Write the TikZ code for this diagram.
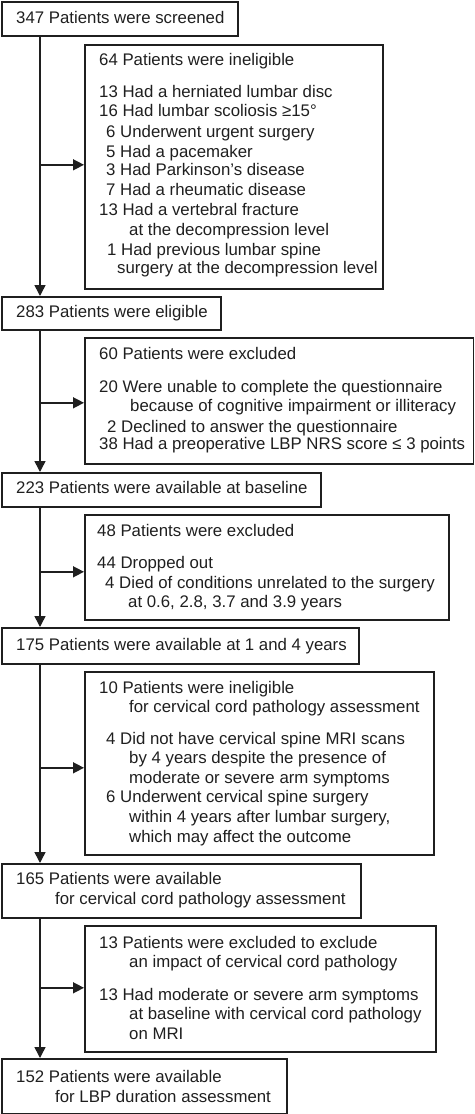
\documentclass[tikz,border=0pt]{standalone}
\usepackage{fontspec}
\setmainfont{Liberation Sans}
\usetikzlibrary{arrows.meta}
\definecolor{ink}{gray}{0.12}
\newcommand\fs{\fontsize{16.8}{20}\selectfont}
\tikzset{
  boxnode/.style={draw=ink, line width=1.6pt, inner sep=0pt, anchor=north west},
  txt/.style={anchor=base west, inner sep=0pt, text=ink, font=\fs},
  arr/.style={draw=ink, line width=1.5pt, -{Triangle[length=11pt,width=11pt]}}
}
\newcommand\bx[5]{\node[boxnode, minimum width={#4-#2}, minimum height={#5-#3}] (#1) at (#2,#3) {};}
\newcommand\tx[4]{\node[txt] (#1) at (#2,#3) {#4};}
\begin{document}
\begin{tikzpicture}[x=1pt,y=-1pt]
\useasboundingbox (0,0) rectangle (474,1114);
% main boxes
\bx{b1}{1}{1}{237}{35}
\bx{b2}{1}{296}{220}{329}
\bx{b3}{1}{472}{320}{506}
\bx{b4}{1}{627}{358}{663}
\bx{b5}{1}{863}{360}{917}
\bx{b6}{1}{1058}{286}{1112.5}
% exclusion boxes
\bx{e1}{84}{44}{382}{288}
\bx{e2}{84}{337}{472.5}{463}
\bx{e3}{84}{514}{448}{619}
\bx{e4}{84}{671}{433}{854}
\bx{e5}{84}{925}{435}{1051}
% main texts
\tx{t1}{16}{23}{347 Patients were screened}
\tx{t2}{16}{317}{283 Patients were eligible}
\tx{t3}{16}{493}{223 Patients were available at baseline}
\tx{t4}{16}{650}{175 Patients were available at 1 and 4 years}
\tx{t5a}{16}{884}{165 Patients were available}
\tx{t5b}{55}{904}{for cervical cord pathology assessment}
\tx{t6a}{16}{1082}{152 Patients were available}
\tx{t6b}{55}{1102}{for LBP duration assessment}
% e1
\tx{e1a}{99}{65}{64 Patients were ineligible}
\tx{e1b}{99}{97}{13 Had a herniated lumbar disc}
\tx{e1c}{99}{116}{16 Had lumbar scoliosis ≥15°}
\tx{e1d}{106}{137}{6 Underwent urgent surgery}
\tx{e1e}{106}{157}{5 Had a pacemaker}
\tx{e1f}{106}{175}{3 Had Parkinson’s disease}
\tx{e1g}{106}{195}{7 Had a rheumatic disease}
\tx{e1h}{99}{215}{13 Had a vertebral fracture}
\tx{e1i}{129}{235}{at the decompression level}
\tx{e1j}{107}{255}{1 Had previous lumbar spine}
\tx{e1k}{117}{273}{surgery at the decompression level}
% e2
\tx{e2a}{99}{359}{60 Patients were excluded}
\tx{e2b}{99}{392}{20 Were unable to complete the questionnaire}
\tx{e2c}{130}{411}{because of cognitive impairment or illiteracy}
\tx{e2d}{107}{432}{2 Declined to answer the questionnaire}
\tx{e2e}{99}{449}{38 Had a preoperative LBP NRS score ≤ 3 points}
% e3
\tx{e3a}{97}{536}{48 Patients were excluded}
\tx{e3b}{97}{568}{44 Dropped out}
\tx{e3c}{105}{588}{4 Died of conditions unrelated to the surgery}
\tx{e3d}{128}{607}{at 0.6, 2.8, 3.7 and 3.9 years}
% e4
\tx{e4a}{99}{693}{10 Patients were ineligible}
\tx{e4b}{129}{712}{for cervical cord pathology assessment}
\tx{e4c}{106}{744}{4 Did not have cervical spine MRI scans}
\tx{e4d}{129}{763}{by 4 years despite the presence of}
\tx{e4e}{129}{783}{moderate or severe arm symptoms}
\tx{e4f}{106}{802}{6 Underwent cervical spine surgery}
\tx{e4g}{129}{822}{within 4 years after lumbar surgery,}
\tx{e4h}{129}{842}{which may affect the outcome}
% e5
\tx{e5a}{99}{948}{13 Patients were excluded to exclude}
\tx{e5b}{129}{967}{an impact of cervical cord pathology}
\tx{e5c}{99}{1000}{13 Had moderate or severe arm symptoms}
\tx{e5d}{129}{1019}{at baseline with cervical cord pathology}
\tx{e5e}{129}{1039}{on MRI}
% connectors
\coordinate (sx) at (40,0);
\coordinate (h1) at ([yshift=2pt]e1.west);
\coordinate (h2) at ([yshift=-2pt]e2.west);
\coordinate (h3) at ([yshift=-4.5pt]e3.west);
\coordinate (h4) at ([yshift=-4.5pt]e4.west);
\coordinate (h5) at ([yshift=1pt]e5.west);
\draw[arr] (sx |- b1.south) -- (sx |- b2.north);
\draw[arr] (sx |- b2.south) -- (sx |- b3.north);
\draw[arr] (sx |- b3.south) -- (sx |- b4.north);
\draw[arr] (sx |- b4.south) -- (sx |- b5.north);
\draw[arr] (sx |- b5.south) -- (sx |- b6.north);
\draw[arr] (sx |- h1) -- (h1);
\draw[arr] (sx |- h2) -- (h2);
\draw[arr] (sx |- h3) -- (h3);
\draw[arr] (sx |- h4) -- (h4);
\draw[arr] (sx |- h5) -- (h5);
\end{tikzpicture}
\end{document}
